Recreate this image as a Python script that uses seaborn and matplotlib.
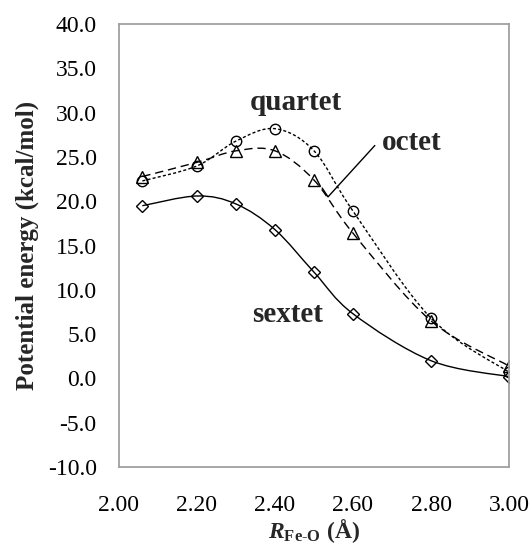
import numpy as np
import pandas as pd
import matplotlib
matplotlib.use("Agg")
import matplotlib.pyplot as plt
from matplotlib.path import Path
from matplotlib.patches import PathPatch
import seaborn as sns

# distances (angstrom) and energies (kcal/mol)
r_fe_o = [2.06, 2.20, 2.30, 2.40, 2.50, 2.60, 2.80, 3.00]
quartet = [22.3, 24.0, 26.8, 28.2, 25.7, 18.9, 6.8, 0.7]
octet = [22.8, 24.4, 25.7, 25.7, 22.4, 16.4, 6.5, 1.4]
sextet = [19.5, 20.6, 19.7, 16.8, 12.0, 7.3, 2.0, 0.2]

x_ticks = [2.00, 2.20, 2.40, 2.60, 2.80, 3.00]
y_ticks = [-10, -5, 0, 5, 10, 15, 20, 25, 30, 35, 40]

sns.set_theme(style="white")
plt.rcParams["font.family"] = ["Liberation Serif", "DejaVu Serif"]
plt.rcParams["mathtext.fontset"] = "custom"
plt.rcParams["mathtext.rm"] = "Liberation Serif"
plt.rcParams["mathtext.bf"] = "Liberation Serif:bold"
plt.rcParams["mathtext.it"] = "Liberation Serif:italic"
plt.rcParams["mathtext.bfit"] = "Liberation Serif:bold:italic"


def smooth_path(xs, ys):
    # excel-like smoothed line: cubic bezier with catmull-rom control points
    pts = np.column_stack([xs, ys])
    n = len(pts)
    verts = [pts[0]]
    codes = [Path.MOVETO]
    for i in range(n - 1):
        p0 = pts[max(i - 1, 0)]
        p1 = pts[i]
        p2 = pts[i + 1]
        p3 = pts[min(i + 2, n - 1)]
        c1 = p1 + (p2 - p0) / 6.0
        c2 = p2 - (p3 - p1) / 6.0
        verts += [c1, c2, p2]
        codes += [Path.CURVE4] * 3
    return Path(verts, codes)


df = pd.DataFrame({"r": r_fe_o * 3,
                   "E": quartet + octet + sextet,
                   "state": ["quartet"] * 8 + ["octet"] * 8 + ["sextet"] * 8})

fig = plt.figure(figsize=(5.31, 5.5), dpi=100)
ax = fig.add_axes([0.224, 0.151, 0.7346, 0.805])

styles = {"quartet": ("o", 7.5, (0, (2.2, 1.6))),
          "octet": ("^", 8.0, (0, (6, 3.5))),
          "sextet": ("D", 6.2, "-")}

for state, (mk, ms, ls) in styles.items():
    sub = df[df["state"] == state]
    ax.add_patch(PathPatch(smooth_path(sub["r"].values, sub["E"].values),
                           fill=False, edgecolor="black", lw=1.0, linestyle=ls))
    sns.lineplot(data=sub, x="r", y="E", ax=ax, marker=mk, markersize=ms,
                 markerfacecolor="none", markeredgecolor="black",
                 markeredgewidth=1.0, linestyle="none", legend=False)

# callout line for the octet label
ax.plot([2.656, 2.536, 2.521], [26.3, 20.5, 21.5], color="black", lw=1.0)

ax.text(2.454, 31.2, "quartet", fontsize=21, fontweight="bold", ha="center", va="center")
ax.text(2.751, 26.6, "octet", fontsize=21, fontweight="bold", ha="center", va="center")
ax.text(2.431, 7.2, "sextet", fontsize=21, fontweight="bold", ha="center", va="center")

ax.set_xlim(2.0, 3.0)
ax.set_ylim(-10, 40)
ax.set_xticks(x_ticks)
ax.set_xticklabels([f"{t:.2f}" for t in x_ticks])
ax.set_yticks(y_ticks)
ax.set_yticklabels([f"{t:.1f}" for t in y_ticks])

for sp in ax.spines.values():
    sp.set_visible(True)
    sp.set_color("#a0a0a0")
    sp.set_linewidth(1.3)

ax.tick_params(axis="both", direction="inout", length=8, width=1.2,
               color="#a0a0a0", labelsize=17, labelcolor="black")
ax.tick_params(axis="x", pad=16)
ax.tick_params(axis="y", pad=12)

ax.set_xlabel(r"$\mathbfit{R}_{\mathbf{Fe\text{-}O}}$ $\mathbf{(\AA)}$", fontsize=17, labelpad=1)
ax.set_ylabel("Potential energy (kcal/mol)", fontsize=18, fontweight="bold", labelpad=6)

fig.savefig("out.png", dpi=100)
